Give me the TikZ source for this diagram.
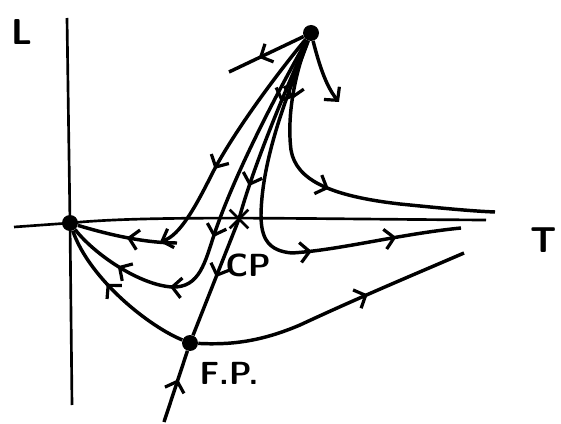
\documentclass[tikz,border=0pt]{standalone}
\usetikzlibrary{arrows.meta, decorations.markings, shapes.misc}

\begin{document}
\begin{tikzpicture}[x=0.75pt, y=-0.75pt,
      axis/.style={line width=2pt},
      flow/.style={line width=2.6pt},
      fixpt/.style={circle, fill, inner sep=0pt, minimum size=12pt},
      lbl/.style={font=\sffamily\bfseries\fontsize{27}{30}\selectfont},
      chev/.tip={Straight Barb[length=7pt, width=15pt, line width=2.4pt]},
      mid/.style={postaction={decorate, decoration={markings,
        mark=at position #1 with {\arrow{chev}}}}}
    ]
      \useasboundingbox (0,0) rectangle (561,424);
      \node[fixpt] (src) at (311,33) {};
      \node[fixpt] (orig) at (70,223) {};
      \node[fixpt] (fp) at (190,343) {};
      \node[cross out, draw, line width=2pt, minimum size=12pt] (cp) at (239,219) {};
      \coordinate (vtop) at (67,18);
      \coordinate (vbot) at (72,405);
      \coordinate (hl) at (14,227);
      \coordinate (hr) at (486,220);
      \coordinate (e1) at (229,72);
      \coordinate (e2) at (339,102);
      \coordinate (e3) at (495,212);
      \coordinate (e4) at (461,228);
      \coordinate (e5) at (160,242);
      \coordinate (e6) at (177,243);
      \coordinate (e9) at (464,253);
      \coordinate (fpbot) at (164,422);
      \node[lbl] (labL) at (22,32) {L};
      \node[lbl] (labT) at (544,240) {T};
      \node[lbl, font=\sffamily\bfseries\fontsize{24}{26}\selectfont] (labCP) at (248,265) {CP};
      \node[lbl, font=\sffamily\bfseries\fontsize{24}{26}\selectfont] (labFP) at (229,373) {F.P.};
      \draw[axis] (vtop) -- (orig.center) -- (vbot);
      \draw[axis] (hl) -- (orig.center) .. controls (150,215) and (300,219) .. (hr);
      \draw[flow, mid=0.6] (src) -- (e1);
      \draw[flow, -chev] (src) .. controls (318,60) and (325,85) .. (e2);
      \draw[flow, mid=0.18, mid=0.5] (src) .. controls (298,65) and (286,110) .. (291,150)
        .. controls (296,180) and (330,196) .. (400,204) .. controls (440,208) and (470,211) .. (e3);
      \draw[flow, mid=0.63, mid=0.84] (src) .. controls (296,75) and (262,150) .. (261,215)
        .. controls (261,238) and (268,251) .. (292,253) .. controls (340,250) and (400,234) .. (e4);
      \draw[flow, mid=0.63, -chev] (src) .. controls (280,70) and (235,130) .. (213,172)
        .. controls (195,208) and (180,235) .. (e5);
      \draw[flow, mid=0.5] (e6) .. controls (140,243) and (100,232) .. (orig);
      \draw[flow, mid=0.54, mid=0.72, mid=0.86] (src) .. controls (290,70) and (240,160) .. (215,232)
        .. controls (205,262) and (200,288) .. (172,287) .. controls (140,285) and (95,255) .. (orig);
      \draw[flow, mid=0.35, mid=0.82] (src) .. controls (292,75) and (255,160) .. (cp.center);
      \draw[flow, mid=0.5] (cp.center) -- (fp);
      \draw[flow, mid=0.6] (fpbot) -- (fp);
      \draw[flow, mid=0.6] (fp) .. controls (150,327) and (90,280) .. (orig);
      \draw[flow, mid=0.63] (fp) .. controls (230,345) and (260,342) .. (300,325)
        .. controls (360,297) and (420,272) .. (e9);
    \end{tikzpicture}
\end{document}
